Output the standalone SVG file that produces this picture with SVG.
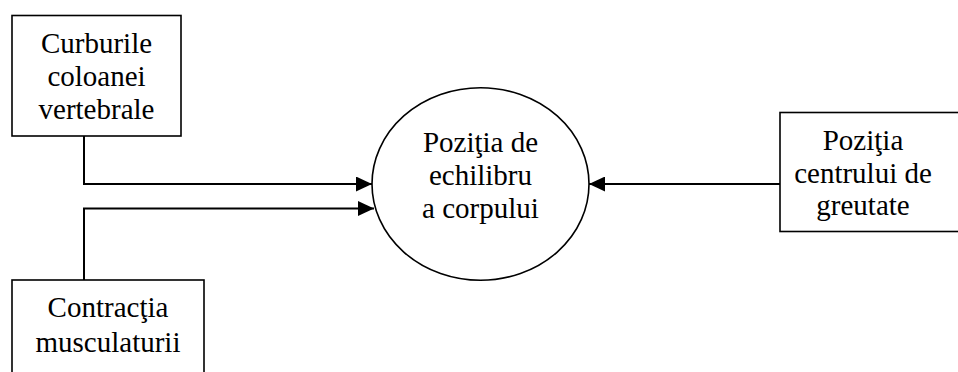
<svg xmlns="http://www.w3.org/2000/svg" width="958" height="372" viewBox="0 0 958 372">
<style>
.box{fill:#fff;stroke:#000;stroke-width:1.6}
.c{fill:none;stroke:#000;stroke-width:2}
</style>
<defs>
<marker id="ah" viewBox="0 0 16 15" refX="16" refY="7.5" markerWidth="16" markerHeight="15" markerUnits="userSpaceOnUse" orient="auto">
<path d="M0,0 L16,7.5 L0,15 Z" fill="#000"/>
</marker>
</defs>
<rect width="958" height="372" fill="#fff"/>
<g id="connectors">
<path class="c" d="M84,136 V184 H372" marker-end="url(#ah)"/>
<path class="c" d="M84,280 V208.5 H374" marker-end="url(#ah)"/>
<path class="c" d="M780,184 H589" marker-end="url(#ah)"/>
</g>
<g font-family="Liberation Serif, Times New Roman, serif" font-size="29" text-anchor="middle" fill="#000">
<g id="n1">
<rect class="box" x="12" y="15.5" width="169" height="120.5"/>
<text x="96.5" y="53">Curburile</text>
<text x="96.5" y="86">coloanei</text>
<text x="96.5" y="119">vertebrale</text>
</g>
<g id="n2">
<rect class="box" x="12" y="280" width="192" height="100"/>
<text x="108" y="317">Contracţia</text>
<text x="108" y="352">musculaturii</text>
</g>
<g id="n3">
<ellipse class="box" cx="480.5" cy="184" rx="108.5" ry="96.3"/>
<text x="480.5" y="152">Poziţia de</text>
<text x="480.5" y="185">echilibru</text>
<text x="480.5" y="218">a corpului</text>
</g>
<g id="n4">
<rect class="box" x="780" y="112.5" width="190" height="119"/>
<text x="863" y="150">Poziţia</text>
<text x="863" y="183">centrului de</text>
<text x="863" y="215">greutate</text>
</g>
</g>
</svg>
